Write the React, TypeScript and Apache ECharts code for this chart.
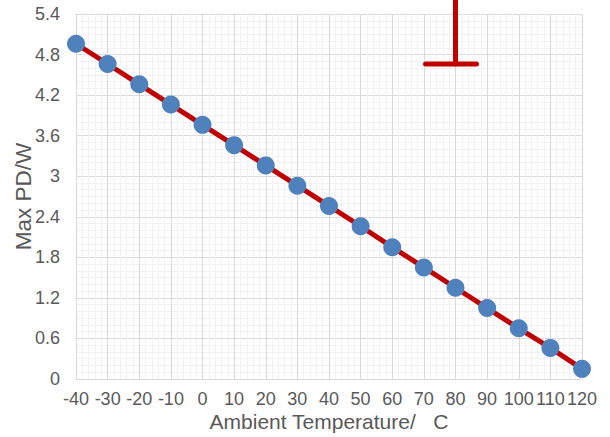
import React, { useEffect, useRef } from "react";
import * as echarts from "echarts";

const temperatures = [-40, -30, -20, -10, 0, 10, 20, 30, 40, 50, 60, 70, 80, 90, 100, 110, 120];
const maxPD = [4.96, 4.66, 4.36, 4.06, 3.76, 3.46, 3.16, 2.86, 2.56, 2.26, 1.95, 1.65, 1.35, 1.05, 0.75, 0.46, 0.15];
// stray error-bar mark in the reference: [x, capValue, upperValue]
const errorBar = [[80, 4.66, 6.5]];

const FONT = "Liberation Sans, Arial, sans-serif";
const TEXT = "#595959";

export default function App() {
  const ref = useRef<HTMLDivElement>(null);
  useEffect(() => {
    if (!ref.current) return;
    const chart = echarts.init(ref.current, undefined, { renderer: "svg" });
    chart.setOption({
      animation: false,
      backgroundColor: "#ffffff",
      grid: {
        left: 76,
        right: 28,
        top: 14,
        bottom: 58,
        containLabel: false,
        outerBoundsMode: "none",
      },
      xAxis: {
        type: "value",
        min: -40,
        max: 120,
        interval: 10,
        name: "Ambient Temperature/   C",
        nameLocation: "middle",
        nameGap: 34,
        nameMoveOverlap: false,
        nameTextStyle: { color: TEXT, fontSize: 21, lineHeight: 16, fontFamily: FONT },
        axisLine: { show: true, lineStyle: { color: "#D9D9D9", width: 1 } },
        axisTick: { show: false },
        axisLabel: { color: TEXT, fontSize: 18, lineHeight: 14, fontFamily: FONT, margin: 13 },
        splitLine: { show: true, lineStyle: { color: "#D9D9D9", width: 1 } },
        minorTick: { show: false, splitNumber: 5 },
        minorSplitLine: { show: true, lineStyle: { color: "#F2F2F2", width: 1 } },
      },
      yAxis: {
        type: "value",
        min: 0,
        max: 5.4,
        interval: 0.6,
        name: "Max PD/W",
        nameLocation: "middle",
        nameGap: 41,
        nameMoveOverlap: false,
        nameTextStyle: { color: TEXT, fontSize: 22.5, fontFamily: FONT },
        axisLine: { show: false },
        axisTick: { show: false },
        axisLabel: {
          color: TEXT,
          fontSize: 18,
          fontFamily: FONT,
          margin: 16,
          formatter: (v: number) => String(Math.round(v * 10) / 10),
        },
        splitLine: { show: true, lineStyle: { color: "#D9D9D9", width: 1 } },
        minorTick: { show: false, splitNumber: 6 },
        minorSplitLine: { show: true, lineStyle: { color: "#F2F2F2", width: 1 } },
      },
      series: [
        {
          type: "custom",
          clip: false,
          data: errorBar,
          z: 3,
          renderItem: (params: any, api: any) => {
            const cap = api.coord([api.value(0), api.value(1)]);
            const top = api.coord([api.value(0), api.value(2)]);
            const style = { stroke: "#C00000", lineWidth: 5, lineCap: "round" };
            return {
              type: "group",
              children: [
                { type: "line", shape: { x1: cap[0], y1: cap[1], x2: top[0], y2: top[1] }, style },
                { type: "line", shape: { x1: cap[0] - 30, y1: cap[1], x2: cap[0] + 21, y2: cap[1] }, style },
              ],
            };
          },
        },
        {
          type: "line",
          data: temperatures.map((t, i) => [t, maxPD[i]]),
          lineStyle: { color: "#C00000", width: 5 },
          itemStyle: { color: "#4F81BD" },
          symbol: "circle",
          symbolSize: 18,
          showSymbol: true,
          clip: false,
          z: 4,
        },
      ],
    });
    return () => chart.dispose();
  }, []);
  return (
    <div
      ref={ref}
      style={{ position: "fixed", left: 0, top: 0, width: 610, height: 437 }}
    />
  );
}
